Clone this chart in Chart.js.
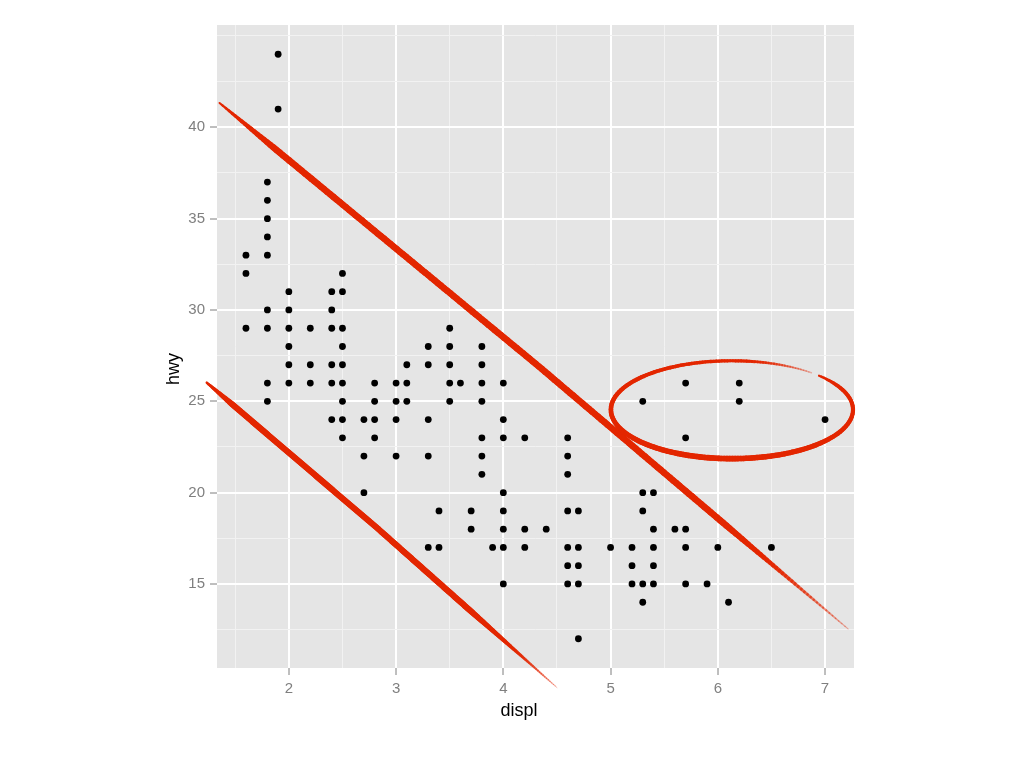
<!DOCTYPE html>
<html>
<head>
<meta charset="utf-8">
<script src="https://cdn.jsdelivr.net/npm/chart.js@4/dist/chart.umd.min.js"></script>
<style>
  html, body { margin: 0; padding: 0; background: #fff; }
  #wrap { width: 1024px; height: 768px; }
</style>
</head>
<body>
<div id="wrap"><canvas id="chart"></canvas></div>
<script>
// mpg: engine displacement vs highway mileage (distinct points)
const displ = [
  1.6, 1.6, 1.6,
  1.8, 1.8, 1.8, 1.8, 1.8, 1.8, 1.8, 1.8, 1.8,
  1.9, 1.9,
  2.0, 2.0, 2.0, 2.0, 2.0, 2.0,
  2.2, 2.2, 2.2,
  2.4, 2.4, 2.4, 2.4, 2.4, 2.4,
  2.5, 2.5, 2.5, 2.5, 2.5, 2.5, 2.5, 2.5, 2.5,
  2.7, 2.7, 2.7,
  2.8, 2.8, 2.8, 2.8,
  3.0, 3.0, 3.0, 3.0,
  3.1, 3.1, 3.1,
  3.3, 3.3, 3.3, 3.3, 3.3,
  3.4, 3.4,
  3.5, 3.5, 3.5, 3.5, 3.5,
  3.6,
  3.7, 3.7,
  3.8, 3.8, 3.8, 3.8, 3.8, 3.8, 3.8,
  3.9,
  4.0, 4.0, 4.0, 4.0, 4.0, 4.0, 4.0, 4.0,
  4.2, 4.2, 4.2,
  4.4,
  4.6, 4.6, 4.6, 4.6, 4.6, 4.6, 4.6,
  4.7, 4.7, 4.7, 4.7, 4.7,
  5.0,
  5.2, 5.2, 5.2,
  5.3, 5.3, 5.3, 5.3, 5.3,
  5.4, 5.4, 5.4, 5.4, 5.4,
  5.6,
  5.7, 5.7, 5.7, 5.7, 5.7,
  5.9,
  6.0,
  6.1,
  6.2, 6.2,
  6.5,
  7.0
];
const hwy = [
  33, 32, 29,
  37, 36, 35, 34, 33, 30, 29, 26, 25,
  44, 41,
  31, 30, 29, 28, 27, 26,
  29, 27, 26,
  31, 30, 29, 27, 26, 24,
  32, 31, 29, 28, 27, 26, 25, 24, 23,
  24, 22, 20,
  26, 25, 24, 23,
  26, 25, 24, 22,
  27, 26, 25,
  28, 27, 24, 22, 17,
  19, 17,
  29, 28, 27, 26, 25,
  26,
  19, 18,
  28, 27, 26, 25, 23, 22, 21,
  17,
  26, 24, 23, 20, 19, 18, 17, 15,
  23, 18, 17,
  18,
  23, 22, 21, 19, 17, 16, 15,
  19, 17, 16, 15, 12,
  17,
  17, 16, 15,
  25, 20, 19, 15, 14,
  20, 18, 17, 16, 15,
  18,
  26, 23, 18, 17, 15,
  15,
  17,
  14,
  26, 25,
  17,
  24
];

const xMajor = [2, 3, 4, 5, 6, 7];
const xMinor = [1.5, 2.5, 3.5, 4.5, 5.5, 6.5];
const yMajor = [15, 20, 25, 30, 35, 40];
const yMinor = [12.5, 17.5, 22.5, 27.5, 32.5, 37.5, 42.5, 45];

// hand drawn red marks, in data units
const upperStroke = [[1.354, 41.33], [4.323, 26.95], [7.215, 12.54]];
const lowerStroke = [[1.235, 26.02], [2.830, 18.03], [4.500, 9.33]];
const ring = { cx: 6.132, cy: 24.54, rx: 1.129, ry: 2.68 };

const RED = '#E32600';
const FONT = '"Liberation Sans", Arial, Helvetica, sans-serif';

const points = displ.map((d, i) => ({ x: d, y: hwy[i] }));

const isMajor = (list, v) => list.some(m => Math.abs(m - v) < 1e-9);

const panelBg = {
  id: 'panelBg',
  beforeDraw(chart) {
    const { ctx, chartArea: a } = chart;
    ctx.save();
    ctx.fillStyle = '#E5E5E5';
    ctx.fillRect(a.left, a.top, a.right - a.left, a.bottom - a.top);
    ctx.restore();
  }
};

// a stroke whose width follows profile(t), t going 0..1 along the path
const taper = (ctx, pts, profile) => {
  const n = 200;
  const seg = [];
  for (let i = 1; i < pts.length; i++) {
    seg.push(Math.hypot(pts[i][0] - pts[i - 1][0], pts[i][1] - pts[i - 1][1]));
  }
  const total = seg.reduce((s, v) => s + v, 0);
  const at = (t) => {
    let d = t * total;
    for (let i = 0; i < seg.length; i++) {
      if (d <= seg[i] || i === seg.length - 1) {
        const f = seg[i] ? d / seg[i] : 0;
        return [pts[i][0] + (pts[i + 1][0] - pts[i][0]) * f,
                pts[i][1] + (pts[i + 1][1] - pts[i][1]) * f];
      }
      d -= seg[i];
    }
  };
  ctx.lineCap = 'round';
  ctx.strokeStyle = RED;
  for (let i = 0; i < n; i++) {
    const t0 = i / n, t1 = (i + 1) / n;
    const p = profile((t0 + t1) / 2);
    const a = at(t0), b = at(t1);
    ctx.globalAlpha = p.alpha;
    ctx.lineWidth = p.w;
    ctx.beginPath();
    ctx.moveTo(a[0], a[1]);
    ctx.lineTo(b[0], b[1]);
    ctx.stroke();
  }
  ctx.globalAlpha = 1;
};

const redMarks = {
  id: 'redMarks',
  afterDatasetsDraw(chart) {
    const { ctx, scales: { x, y } } = chart;
    const px = (p) => [x.getPixelForValue(p[0]), y.getPixelForValue(p[1])];
    ctx.save();

    taper(ctx, upperStroke.map(px), t => ({
      w: 6.5 * Math.min(1, 0.3 + t * 8) * (t > 0.8 ? Math.max(0.15, 1 - (t - 0.8) * 4.2) : 1),
      alpha: t > 0.85 ? Math.max(0.35, 1 - (t - 0.85) * 4.5) : 1
    }));

    taper(ctx, lowerStroke.map(px), t => ({
      w: 6 * Math.min(1, 0.4 + t * 8) * (t > 0.75 ? Math.max(0.15, 1 - (t - 0.75) * 3.4) : 1),
      alpha: t > 0.85 ? Math.max(0.35, 1 - (t - 0.85) * 4.5) : 1
    }));

    // ellipse, pen starting at upper right and going round clockwise
    const a0 = -44 * Math.PI / 180, a1 = 311 * Math.PI / 180;
    const ringPts = [];
    for (let i = 0; i <= 240; i++) {
      const th = a0 + (a1 - a0) * i / 240;
      ringPts.push(px([ring.cx + ring.rx * Math.cos(th), ring.cy - ring.ry * Math.sin(th)]));
    }
    taper(ctx, ringPts, t => {
      const th = a0 + (a1 - a0) * t;
      let w = 4.4 + 1.2 * Math.sin(th);
      if (t < 0.04) w *= 0.6 + t * 10;
      let alpha = 1;
      if (t > 0.88) { w *= Math.max(0.3, 1 - (t - 0.88) * 5); alpha = Math.max(0.3, 1 - (t - 0.88) * 6); }
      return { w, alpha };
    });

    ctx.restore();
  }
};

const axisTitles = {
  id: 'axisTitles',
  afterDraw(chart) {
    const { ctx } = chart;
    ctx.save();
    ctx.fillStyle = '#000';
    ctx.font = '18px ' + FONT;
    ctx.textAlign = 'center';
    ctx.textBaseline = 'alphabetic';
    ctx.fillText('displ', 519, 716);
    ctx.translate(179, 369);
    ctx.rotate(-Math.PI / 2);
    ctx.fillText('hwy', 0, 0);
    ctx.restore();
  }
};

const axisOpts = (major, minor, min, max, size) => ({
  type: 'linear',
  min, max,
  afterBuildTicks(scale) {
    scale.ticks = major.concat(minor).sort((a, b) => a - b).map(v => ({ value: v }));
  },
  afterFit(scale) {
    if (size.width) scale.width = size.width;
    if (size.height) scale.height = size.height;
  },
  border: { display: false },
  grid: {
    color: c => isMajor(major, c.tick.value) ? '#FFFFFF' : '#F2F2F2',
    lineWidth: c => isMajor(major, c.tick.value) ? 2 : 1,
    tickColor: c => isMajor(major, c.tick.value) ? '#7F7F7F' : 'rgba(0,0,0,0)',
    tickLength: 7,
    tickWidth: 1
  },
  ticks: {
    autoSkip: false,
    maxRotation: 0,
    padding: 5,
    color: '#7F7F7F',
    font: { family: FONT, size: 15 },
    callback: v => isMajor(major, v) ? String(v) : ''
  }
});

new Chart(document.getElementById('chart'), {
  type: 'scatter',
  data: {
    datasets: [{
      data: points,
      pointRadius: 3.4,
      pointBackgroundColor: '#000',
      pointBorderWidth: 0,
      pointHoverRadius: 3.4
    }]
  },
  options: {
    responsive: true,
    maintainAspectRatio: false,
    animation: false,
    events: [],
    layout: { padding: { top: 25, right: 170, left: 0, bottom: 0 } },
    plugins: {
      legend: { display: false },
      tooltip: { enabled: false }
    },
    scales: {
      x: axisOpts(xMajor, xMinor, 1.33, 7.27, { height: 100 }),
      y: axisOpts(yMajor, yMinor, 10.4, 45.6, { width: 217 })
    }
  },
  plugins: [panelBg, redMarks, axisTitles]
});
</script>
</body>
</html>
